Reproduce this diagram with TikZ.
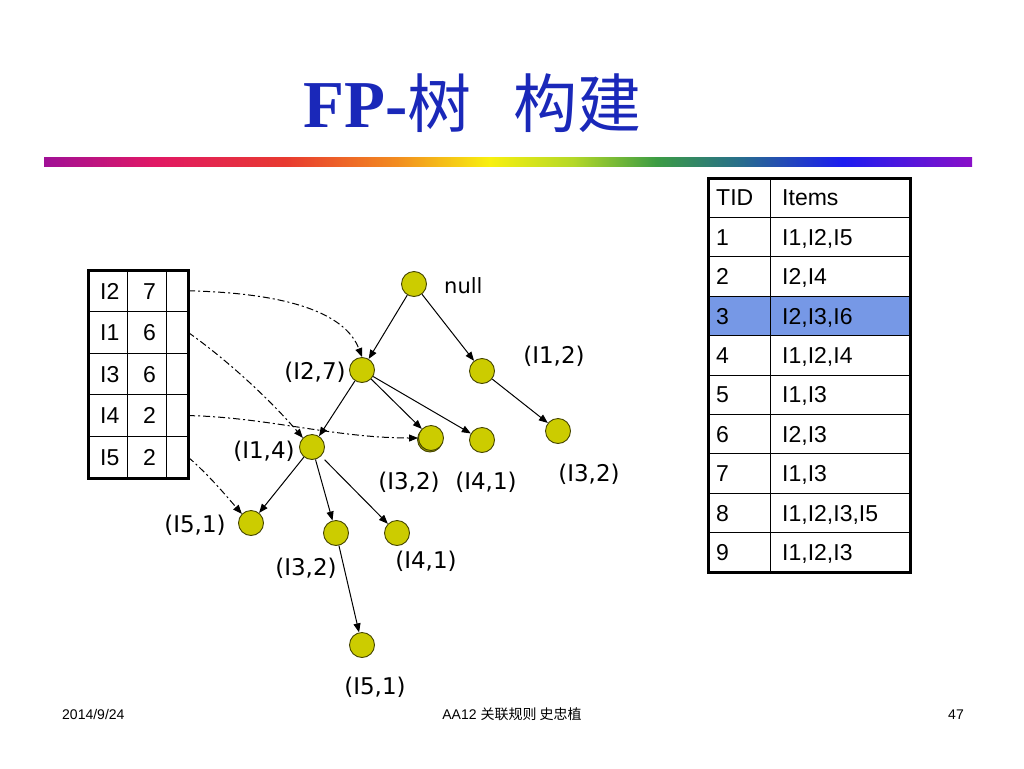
\documentclass[tikz,border=0pt]{standalone}
\usepackage{fontspec}
\setmainfont{Liberation Sans}
\newfontfamily\cjk{Noto Sans CJK SC}
\newfontfamily\dv{DejaVu Sans}
\newfontfamily\tser{Liberation Serif}
\usetikzlibrary{arrows.meta,shadows}
\definecolor{titleblue}{RGB}{26,40,185}
\definecolor{nodefill}{RGB}{204,204,0}
\definecolor{nodeline}{RGB}{70,70,0}
\definecolor{hlblue}{RGB}{118,152,230}
\definecolor{rbA}{RGB}{160,16,150}
\definecolor{rbB}{RGB}{225,24,100}
\definecolor{rbC}{RGB}{232,58,48}
\definecolor{rbD}{RGB}{242,140,32}
\definecolor{rbE}{RGB}{248,240,16}
\definecolor{rbF}{RGB}{180,216,40}
\definecolor{rbG}{RGB}{60,156,68}
\definecolor{rbH}{RGB}{40,110,140}
\definecolor{rbI}{RGB}{28,28,240}
\definecolor{rbJ}{RGB}{138,16,200}
\pgfdeclarehorizontalshading{rainbow}{100bp}{color(0bp)=(rbA); color(25bp)=(rbA); color(31bp)=(rbB); color(38bp)=(rbC); color(44bp)=(rbD); color(49bp)=(rbE); color(53.5bp)=(rbF); color(58bp)=(rbG); color(62.5bp)=(rbH); color(68bp)=(rbI); color(75bp)=(rbJ); color(100bp)=(rbJ)}
\tikzset{
  tn/.style={circle, fill=nodefill, draw=nodeline, line width=0.9pt, minimum size=25pt, inner sep=0pt},
  lbl/.style={font=\dv\fontsize{23}{26}\selectfont, inner sep=0pt},
  edge/.style={-{Triangle[length=9pt,width=7pt]}, line width=1pt},
  ptr/.style={-{Triangle[length=9pt,width=7pt]}, line width=1pt, dash pattern=on 7pt off 3pt on 2pt off 3pt},
  tcell/.style={font=\fontsize{23}{26}\selectfont, anchor=base west, inner sep=0pt},
  pcell/.style={minimum width=22pt, minimum height=41.6pt, inner sep=0pt},
  foot/.style={font=\fontsize{14}{16}\selectfont, inner sep=0pt},
}
\begin{document}
\begin{tikzpicture}[x=1pt,y=-1pt]
\useasboundingbox (0,0) rectangle (1024,768);
\fill[white] (0,0) rectangle (1024,768);

% title
\node[anchor=base west, text=titleblue, inner sep=0pt] (title) at (303,127)
  {\tser\bfseries\fontsize{67}{72}\selectfont FP-{\cjk\mdseries\fontsize{64}{70}\selectfont 树\hspace{42pt}构建}};
\shade[shading=rainbow] (44,157) rectangle (972,166);

% left header table
\draw[line width=1pt] (127,270) -- (127,478) (166,270) -- (166,478);
\foreach \yy in {311.6,353.2,394.8,436.4} \draw[line width=1pt] (88,\yy) -- (188,\yy);
\draw[line width=3pt] (88,270) rectangle (188,478);
\node[tcell] (h2) at (100,299.0) {I2};  \node[tcell] (c2) at (143,299.0) {7};
\node[tcell] (h1) at (100,340.6) {I1};  \node[tcell] (c1) at (143,340.6) {6};
\node[tcell] (h3) at (100,382.2) {I3};  \node[tcell] (c3) at (143,382.2) {6};
\node[tcell] (h4) at (100,423.8) {I4};  \node[tcell] (c4) at (143,423.8) {2};
\node[tcell] (h5) at (100,465.4) {I5};  \node[tcell] (c5) at (143,465.4) {2};
\node[pcell] (p2) at (177,290.8) {};
\node[pcell] (p1) at (177,332.4) {};
\node[pcell] (p3) at (177,374.0) {};
\node[pcell] (p4) at (177,415.6) {};
\node[pcell] (p5) at (177,457.2) {};

% right transaction table
\fill[hlblue] (708,296.2) rectangle (910,335.6);
\foreach \k in {1,...,9} \draw[line width=1pt] (708,178+39.4*\k) -- (910,178+39.4*\k);
\draw[line width=1pt] (770,178) -- (770,572);
\draw[line width=3pt] (708,178) rectangle (910,572);
\node[tcell] (tid) at (716,205.9) {TID};  \node[tcell] (items) at (782,205.9) {Items};
\node[tcell] (t1) at (716,245.3) {1};  \node[tcell] (i1) at (782,245.3) {I1,I2,I5};
\node[tcell] (t2) at (716,284.7) {2};  \node[tcell] (i2) at (782,284.7) {I2,I4};
\node[tcell] (t3) at (716,324.1) {3};  \node[tcell] (i3) at (782,324.1) {I2,I3,I6};
\node[tcell] (t4) at (716,363.5) {4};  \node[tcell] (i4) at (782,363.5) {I1,I2,I4};
\node[tcell] (t5) at (716,402.9) {5};  \node[tcell] (i5) at (782,402.9) {I1,I3};
\node[tcell] (t6) at (716,442.3) {6};  \node[tcell] (i6) at (782,442.3) {I2,I3};
\node[tcell] (t7) at (716,481.7) {7};  \node[tcell] (i7) at (782,481.7) {I1,I3};
\node[tcell] (t8) at (716,521.1) {8};  \node[tcell] (i8) at (782,521.1) {I1,I2,I3,I5};
\node[tcell] (t9) at (716,560.5) {9};  \node[tcell] (i9) at (782,560.5) {I1,I2,I3};

% tree nodes
\node[tn] (nnull) at (414,284) {};
\node[tn] (n27) at (362,370) {};
\node[tn] (n12) at (482,371) {};
\node[tn] (n14) at (312,447) {};
\node[tn, copy shadow={shadow xshift=-1pt, shadow yshift=-1.5pt, fill=nodefill!75!black, draw=nodeline}] (n32a) at (431,438) {};
\node[tn] (n41a) at (482,440) {};
\node[tn] (n32b) at (558,431) {};
\node[tn] (n51a) at (251,523) {};
\node[tn] (n32c) at (336,533) {};
\node[tn] (n41b) at (397,533) {};
\node[tn] (n51b) at (362,645) {};

% labels
\node[font=\dv\fontsize{21}{24}\selectfont, anchor=west, inner sep=0pt] (lnull) at (444,286) {null};
\node[lbl] (l27) at (315,372) {(I2,7)};
\node[lbl] (l12) at (554,356) {(I1,2)};
\node[lbl] (l14) at (264,451) {(I1,4)};
\node[lbl] (l32a) at (409,482) {(I3,2)};
\node[lbl] (l41a) at (486,482) {(I4,1)};
\node[lbl] (l32b) at (589,474) {(I3,2)};
\node[lbl] (l51a) at (195,525) {(I5,1)};
\node[lbl] (l32c) at (306,568) {(I3,2)};
\node[lbl] (l41b) at (426,561) {(I4,1)};
\node[lbl] (l51b) at (375,687) {(I5,1)};

% tree edges
\draw[edge] (nnull) -- (n27);
\draw[edge] (nnull) -- (n12);
\draw[edge] (n27) -- (n14);
\draw[edge] (n27) -- (n32a);
\draw[edge] (n27) -- (n41a);
\draw[edge] (n12) -- (n32b);
\draw[edge] (n14) -- (n51a);
\draw[edge] (n14) -- (n32c);
\draw[edge, shorten <=5pt] (n14) -- (n41b);
\draw[edge] (n32c) -- (n51b);

% node-link pointers
\draw[ptr] (p2.east) .. controls (285,293) and (345,312) .. (n27.north);
\draw[ptr] (p1.east) .. controls (230,362) and (272,402) .. (n14.north west);
\draw[ptr] (p4.east) .. controls (265,417) and (335,438) .. (n32a.west);
\draw[ptr] (p5.east) .. controls (210,476) and (228,498) .. (n51a.north west);

% footer
\node[foot, anchor=base west] (date) at (62,719) {2014/9/24};
\node[foot, anchor=base] (course) at (512,719) {AA12 {\cjk 关联规则 史忠植}};
\node[foot, anchor=base east] (page) at (964,719) {47};
\end{tikzpicture}
\end{document}
